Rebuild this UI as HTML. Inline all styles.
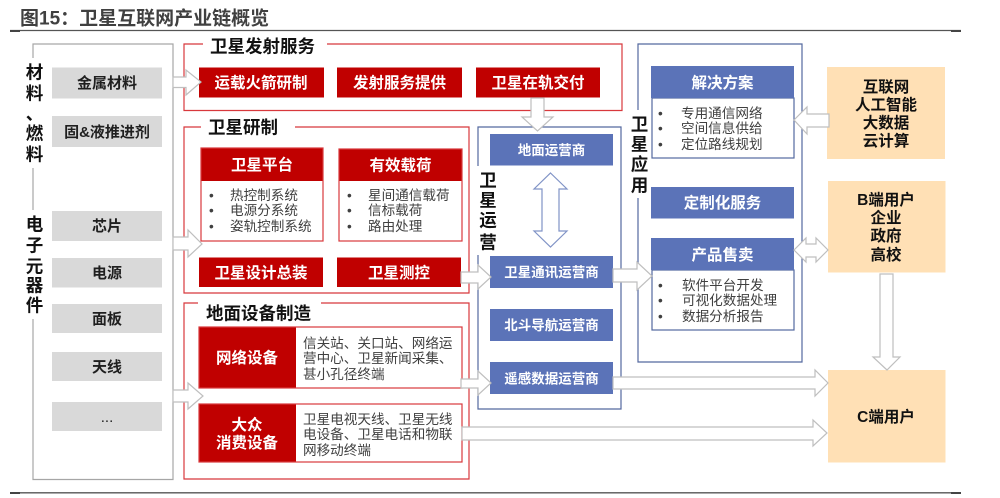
<!DOCTYPE html>
<html lang="zh"><head><meta charset="utf-8"><title>卫星互联网产业链概览</title>
<style>
html,body{margin:0;padding:0;background:#fff;width:1000px;height:498px;overflow:hidden}
svg{display:block;filter:blur(0.35px)}
text{font-family:"Liberation Sans","Noto Sans CJK SC",sans-serif;dominant-baseline:central;transform:translateY(0.7px)}
.c{text-anchor:middle}
.b{font-weight:700}
.w{fill:#fff;font-weight:700;font-size:15.5px;text-anchor:middle}
.wb{fill:#fff;font-weight:700;font-size:13.5px;text-anchor:middle}
.g{fill:#1f1f1f;font-weight:700;font-size:15px;text-anchor:middle}
.o{fill:#111;font-weight:700;font-size:15.5px;text-anchor:middle}
.s{fill:#111;font-weight:700;font-size:17.5px}
.v{fill:#111;font-weight:700;font-size:17.5px;text-anchor:middle}
.t{fill:#404040;font-size:13.6px}
.rf{fill:none;stroke:#d8383c;stroke-width:1.2}
.bf{fill:none;stroke:#54699f;stroke-width:1.2}
.gf{fill:none;stroke:#a6a6a6;stroke-width:1.2}
.a{fill:#fff;stroke:#bfbfbf;stroke-width:1.2}
</style></head><body>
<svg width="1000" height="498" viewBox="0 0 1000 498" xmlns="http://www.w3.org/2000/svg">
<!-- title & rules -->
<text x="20" y="18.5" class="b" style="font-size:19px;fill:#404040">图15：卫星互联网产业链概览</text>
<line x1="10" y1="30.5" x2="961" y2="30.5" stroke="#555" stroke-width="1.3"/>
<line x1="10" y1="31" x2="20" y2="31" stroke="#444" stroke-width="2"/>
<line x1="951" y1="31" x2="961" y2="31" stroke="#444" stroke-width="2"/>
<line x1="10" y1="492.8" x2="961" y2="492.8" stroke="#555" stroke-width="1.3"/>
<line x1="10" y1="493" x2="20" y2="493" stroke="#444" stroke-width="2"/>
<line x1="951" y1="493" x2="961" y2="493" stroke="#444" stroke-width="2"/>

<!-- left frame -->
<path class="gf" d="M33 58V44H173V479.5H33V319M33 168V210"/>
<text class="v" x="34.5" y="72">材</text>
<text class="v" x="34.5" y="93">料</text>
<text class="v" x="34.5" y="113">、</text>
<text class="v" x="34.5" y="133">燃</text>
<text class="v" x="34.5" y="154">料</text>
<text class="v" x="34.5" y="224">电</text>
<text class="v" x="34.5" y="245">子</text>
<text class="v" x="34.5" y="266">元</text>
<text class="v" x="34.5" y="285">器</text>
<text class="v" x="34.5" y="305">件</text>
<g fill="#d9d9d9">
<rect x="52" y="67.5" width="110" height="31"/>
<rect x="52" y="116" width="110" height="31"/>
<rect x="52" y="211" width="110" height="30"/>
<rect x="52" y="258" width="110" height="29.5"/>
<rect x="52" y="304" width="110" height="29"/>
<rect x="52" y="352" width="110" height="29"/>
<rect x="52" y="402" width="110" height="29"/>
</g>
<text class="g" x="107" y="83">金属材料</text>
<text class="g" x="107" y="132">固&amp;液推进剂</text>
<text class="g" x="107" y="226">芯片</text>
<text class="g" x="107" y="273">电源</text>
<text class="g" x="107" y="319">面板</text>
<text class="g" x="107" y="367">天线</text>
<text class="g" x="107" y="417" style="font-weight:400">...</text>

<!-- red frames -->
<path class="rf" d="M203 44H184V110.5H622V44H327"/>
<text class="s" x="210" y="46">卫星发射服务</text>
<path class="rf" d="M201 127H184V293H469V127H295"/>
<text class="s" x="208" y="127">卫星研制</text>
<path class="rf" d="M198 303H184V479H469V303H321"/>
<text class="s" x="206" y="313">地面设备制造</text>

<!-- red boxes -->
<g fill="#c00000">
<rect x="199" y="67.5" width="125" height="30"/>
<rect x="337" y="67.5" width="125" height="30"/>
<rect x="476" y="67.5" width="124" height="30"/>
<rect x="201" y="148" width="122" height="33"/>
<rect x="339" y="149" width="123" height="32"/>
<rect x="199" y="257.5" width="124" height="29.5"/>
<rect x="337" y="257.5" width="124" height="29.5"/>
<rect x="199" y="327" width="97" height="61"/>
<rect x="199" y="404" width="97" height="58"/>
</g>
<text class="w" x="261" y="83">运载火箭研制</text>
<text class="w" x="399.5" y="83">发射服务提供</text>
<text class="w" x="538" y="83">卫星在轨交付</text>
<text class="w" x="262" y="165">卫星平台</text>
<text class="w" x="400.5" y="165.5">有效载荷</text>
<text class="w" x="261" y="273">卫星设计总装</text>
<text class="w" x="399" y="273">卫星测控</text>
<text class="w" x="247" y="358">网络设备</text>
<text class="w" x="247" y="425">大众</text>
<text class="w" x="247" y="443">消费设备</text>

<rect x="201" y="148" width="122" height="93" class="rf"/>
<rect x="339" y="149" width="123" height="92" class="rf"/>
<rect x="199" y="327" width="263" height="61" class="rf"/>
<rect x="199" y="404" width="263" height="58" class="rf"/>

<text class="t" x="209" y="195">•</text><text class="t" x="230" y="195">热控制系统</text>
<text class="t" x="209" y="210">•</text><text class="t" x="230" y="210">电源分系统</text>
<text class="t" x="209" y="226">•</text><text class="t" x="230" y="226">姿轨控制系统</text>
<text class="t" x="347" y="195">•</text><text class="t" x="368" y="195">星间通信载荷</text>
<text class="t" x="347" y="210">•</text><text class="t" x="368" y="210">信标载荷</text>
<text class="t" x="347" y="226">•</text><text class="t" x="368" y="226">路由处理</text>

<text class="t" x="303" y="343">信关站、关口站、网络运</text>
<text class="t" x="303" y="358">营中心、卫星新闻采集、</text>
<text class="t" x="303" y="374">甚小孔径终端</text>
<text class="t" x="303" y="419">卫星电视天线、卫星无线</text>
<text class="t" x="303" y="434">电设备、卫星电话和物联</text>
<text class="t" x="303" y="450">网移动终端</text>

<!-- operations -->
<path class="bf" d="M478 166V127H621V409H478V255"/>
<text class="v" x="488" y="180">卫</text>
<text class="v" x="488" y="200">星</text>
<text class="v" x="488" y="220">运</text>
<text class="v" x="488" y="242">营</text>
<g fill="#5b73b8">
<rect x="490" y="134" width="123" height="31.5"/>
<rect x="490" y="256" width="123" height="32"/>
<rect x="490" y="309" width="123" height="32"/>
<rect x="490" y="362" width="123" height="32"/>
</g>
<text class="wb" x="551.5" y="150">地面运营商</text>
<text class="wb" x="551.5" y="272">卫星通讯运营商</text>
<text class="wb" x="551.5" y="325">北斗导航运营商</text>
<text class="wb" x="551.5" y="378.5">遥感数据运营商</text>
<polygon points="550.5,173 567,189 559,189 559,231 567,231 550.5,247 534,231 542,231 542,189 534,189" fill="#fff" stroke="#8093c6" stroke-width="1.2"/>

<!-- application -->
<path class="bf" d="M638 110V44H802V362H638V198"/>
<text class="v" x="639.5" y="124">卫</text>
<text class="v" x="639.5" y="144">星</text>
<text class="v" x="639.5" y="164">应</text>
<text class="v" x="639.5" y="185">用</text>
<rect x="652" y="98" width="142" height="60" fill="#fff" stroke="#54699f" stroke-width="1.2"/>
<rect x="652" y="270" width="142" height="60" fill="#fff" stroke="#54699f" stroke-width="1.2"/>
<g fill="#5b73b8">
<rect x="651" y="66" width="143" height="32"/>
<rect x="651" y="187" width="143" height="31.5"/>
<rect x="651" y="238" width="143" height="32"/>
</g>
<text class="w" x="722.5" y="83">解决方案</text>
<text class="w" x="722.5" y="203">定制化服务</text>
<text class="w" x="722.5" y="255">产品售卖</text>
<text class="t" x="658" y="113">•</text><text class="t" x="681" y="113">专用通信网络</text>
<text class="t" x="658" y="128">•</text><text class="t" x="681" y="128">空间信息供给</text>
<text class="t" x="658" y="144">•</text><text class="t" x="681" y="144">定位路线规划</text>
<text class="t" x="658" y="285">•</text><text class="t" x="682" y="285">软件平台开发</text>
<text class="t" x="658" y="300">•</text><text class="t" x="682" y="300">可视化数据处理</text>
<text class="t" x="658" y="316">•</text><text class="t" x="682" y="316">数据分析报告</text>

<!-- orange -->
<g fill="#ffe0b5">
<rect x="827" y="67" width="118" height="92"/>
<rect x="828" y="181" width="117.5" height="91.5"/>
<rect x="828" y="370" width="117.5" height="92.5"/>
</g>
<text class="o" x="886" y="87">互联网</text>
<text class="o" x="886" y="105">人工智能</text>
<text class="o" x="886" y="123">大数据</text>
<text class="o" x="886" y="141">云计算</text>
<text class="o" x="886" y="200">B端用户</text>
<text class="o" x="886" y="218">企业</text>
<text class="o" x="886" y="236">政府</text>
<text class="o" x="886" y="255">高校</text>
<text class="o" x="886" y="417">C端用户</text>

<!-- arrows -->
<polygon class="a" points="173,77 186,77 186,70 201,82 186,95 186,87.5 173,87.5"/>
<polygon class="a" points="173,237 188,237 188,230 202,244 188,257 188,250 173,250"/>
<polygon class="a" points="173,390 188,390 188,383 203,396 188,409 188,402 173,402"/>
<polygon class="a" points="531,98 544,98 544,117 553,117 537.5,131 522,117 531,117"/>
<polygon class="a" points="461,272 478,272 478,265 491,277 478,289 478,283 461,283"/>
<polygon class="a" points="613,269 637,269 637,262 652,276 637,290 637,282 613,282"/>
<polygon class="a" points="461,379 478,379 478,371 491,383 478,395 478,388 461,388"/>
<polygon class="a" points="613,377 815,377 815,370 828,383 815,396 815,389 613,389"/>
<polygon class="a" points="462,427 813,427 813,420 827,433 813,446 813,440 462,440"/>
<polygon class="a" points="829,114 807,114 807,107 794,120 807,134 807,127 829,127"/>
<polygon class="a" points="794,250 806,238 806,244 816,244 816,238 828,250 816,262 816,257 806,257 806,262"/>
<polygon class="a" points="880,274 893,274 893,357 900,357 887,370 873,357 880,357"/>
</svg>
</body></html>
